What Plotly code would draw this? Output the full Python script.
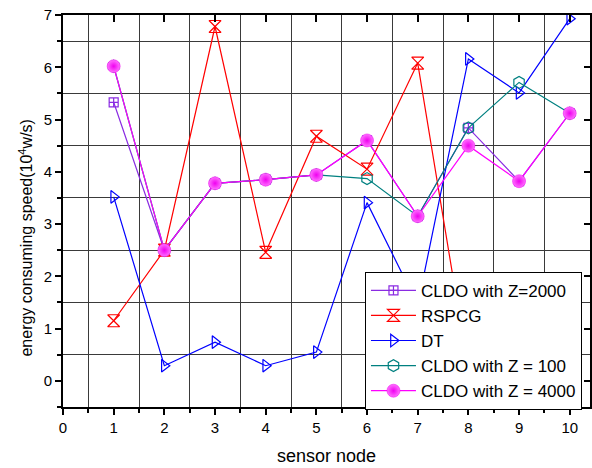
import plotly.graph_objects as go

nodes = [1, 2, 3, 4, 5, 6, 7, 8, 9, 10]
cldo_2000 = [5.33, 2.50, 3.78, 3.85, 3.94, 4.60, 3.15, 4.84, 3.82, 5.12]
rspcg = [1.15, 2.50, 6.78, 2.46, 4.68, 4.05, 6.08, 0.20, 0.60, 0.40]
dt = [3.52, 0.29, 0.74, 0.29, 0.55, 3.41, 1.45, 6.16, 5.51, 6.93]
cldo_100 = [6.02, 2.50, 3.78, 3.85, 3.94, 3.87, 3.15, 4.84, 5.71, 5.12]
cldo_4000 = [6.02, 2.50, 3.78, 3.85, 3.94, 4.60, 3.15, 4.50, 3.82, 5.12]

series = [
    ("CLDO with Z=2000", cldo_2000, "#8A2BE2", "square-cross-open", 9),
    ("RSPCG", rspcg, "#FF0000", "hourglass-open", 12),
    ("DT", dt, "#0000FF", "triangle-right-open", 11),
    ("CLDO with Z = 100", cldo_100, "#008080", "hexagon-open", 12),
    ("CLDO with Z = 4000", cldo_4000, "#FF00FF", "circle", 13),
]

fig = go.Figure()
for name, vals, col, sym, size in series:
    marker = dict(symbol=sym, size=size, color=col, line=dict(color=col, width=1.2))
    if sym == "circle":
        marker = dict(symbol=sym, size=size, color="#FF70FF",
                      gradient=dict(type="radial", color="#F000F0"),
                      line=dict(color="#EE00EE", width=0.5))
    fig.add_trace(go.Scatter(x=nodes, y=vals, name=name, mode="lines+markers",
                             line=dict(color=col, width=1.2), marker=marker))

# invisible trace for mirrored axes
fig.add_trace(go.Scatter(x=[0], y=[0], xaxis="x2", yaxis="y2", mode="markers",
                         marker=dict(opacity=0), showlegend=False, hoverinfo="skip"))

font_family = "Liberation Sans, Arial, sans-serif"
gridc = "#3a3a3a"

fig.update_layout(
    width=592, height=468,
    margin=dict(l=63.4, r=2, t=15.3, b=60.7),
    paper_bgcolor="white", plot_bgcolor="white",
    font=dict(family=font_family, color="black", size=15),
    showlegend=True,
    legend=dict(x=0.573, y=0.345, xanchor="left", yanchor="top",
                bgcolor="white", bordercolor="black", borderwidth=1,
                font=dict(size=17, family=font_family), itemwidth=45,
                tracegroupgap=0),
    xaxis=dict(range=[0, 10.4], tickmode="linear", tick0=0, dtick=1,
               showgrid=False, zeroline=False, showline=True, linecolor="black",
               linewidth=2, ticks="outside", ticklen=6, tickwidth=1.5,
               tickcolor="black", tickfont=dict(size=15),
               minor=dict(dtick=0.5, tick0=0, ticks="outside", ticklen=4,
                          tickwidth=1.5, tickcolor="black", showgrid=True,
                          gridcolor=gridc, gridwidth=1.3),
               title=dict(text="sensor node", font=dict(size=18), standoff=14)),
    yaxis=dict(range=[-0.5, 7], tickmode="linear", tick0=0, dtick=1,
               showgrid=False, zeroline=False, showline=True, linecolor="black",
               linewidth=2, ticks="outside", ticklen=6, tickwidth=1.5,
               tickcolor="black", tickfont=dict(size=15),
               minor=dict(dtick=0.5, tick0=0, ticks="outside", ticklen=4,
                          tickwidth=1.5, tickcolor="black", showgrid=True,
                          gridcolor=gridc, gridwidth=1.3)),
    xaxis2=dict(range=[0, 10.4], overlaying="x", side="top", anchor="y2",
                tickmode="linear", tick0=0, dtick=1, showticklabels=False,
                showgrid=False, zeroline=False, showline=True, linecolor="black",
                linewidth=2, ticks="inside", ticklen=7, tickwidth=1.5,
                tickcolor="black"),
    yaxis2=dict(range=[-0.5, 7], overlaying="y", side="right", anchor="x2",
                tickmode="linear", tick0=0, dtick=1, showticklabels=False,
                showgrid=False, zeroline=False, showline=True, linecolor="black",
                linewidth=2, ticks="inside", ticklen=6, tickwidth=1.5,
                tickcolor="black"),
    annotations=[dict(text="energy consuming speed(10<sup>4</sup>w/s)",
                      xref="paper", yref="paper", x=-0.07, y=0.43,
                      xanchor="center", yanchor="middle", textangle=-90,
                      showarrow=False, font=dict(size=16, family=font_family))],
)

fig.write_html("out.html")
